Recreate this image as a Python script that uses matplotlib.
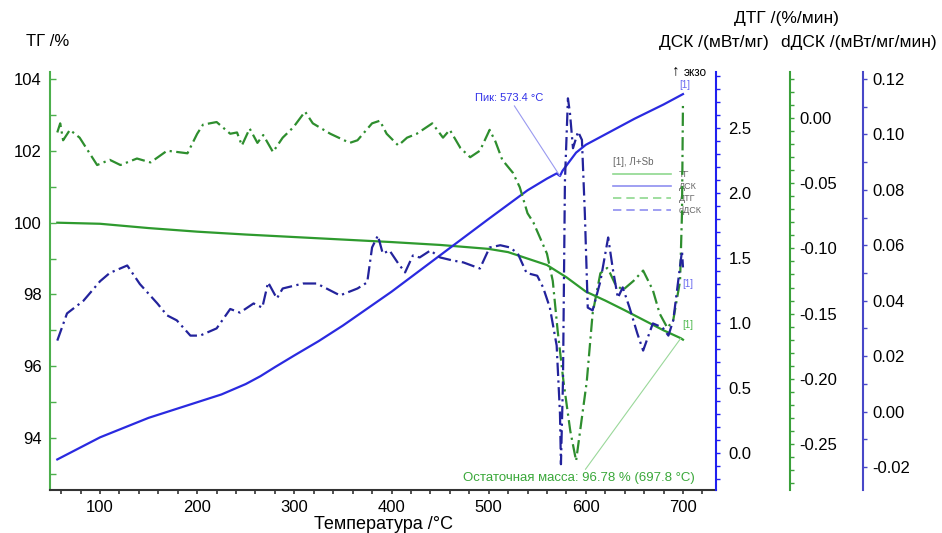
import matplotlib
matplotlib.use('Agg')
import matplotlib.pyplot as plt
from matplotlib.ticker import MultipleLocator, FormatStrFormatter
from matplotlib.lines import Line2D

plt.rcParams['font.family'] = ['Liberation Sans', 'DejaVu Sans']
plt.rcParams['axes.unicode_minus'] = False

# TG, %
tg_temp = [56, 100, 150, 200, 250, 300, 350, 400, 450, 500, 520, 540, 560, 580, 600,
           620, 640, 660, 680, 697.8, 700]
tg_val = [100.0, 99.97, 99.85, 99.75, 99.67, 99.6, 99.53, 99.46, 99.38, 99.27, 99.18,
          99.0, 98.82, 98.48, 98.08, 97.83, 97.56, 97.28, 97.0, 96.78, 96.74]

# DSC, mW/mg
dsc_temp = [56, 100, 150, 200, 225, 250, 265, 280, 300, 325, 350, 400, 450, 500, 540,
            560, 570, 573.4, 576, 590, 600, 620, 650, 680, 700]
dsc_val = [-0.05, 0.12, 0.27, 0.39, 0.45, 0.53, 0.59, 0.66, 0.75, 0.86, 0.98, 1.24,
           1.52, 1.80, 2.02, 2.11, 2.15, 2.13, 2.17, 2.31, 2.37, 2.45, 2.57, 2.68, 2.76]

# DTG, %/min
dtg_temp = [56, 59, 62, 69, 79, 97, 110, 121, 138, 152, 169, 190, 200, 206, 220, 234,
            241, 246, 254, 262, 268, 278, 288, 299, 311, 319, 337, 357, 365, 380, 388,
            395, 407, 416, 426, 442, 453, 460, 471, 481, 491, 501, 507, 514, 525, 532,
            540, 546, 553, 560, 566, 571, 577, 584, 590, 601, 607, 615, 622, 625, 630,
            638, 649, 659, 669, 676, 684, 690, 697, 699, 700]
dtg_val = [-0.011, -0.004, -0.017, -0.009, -0.015, -0.036, -0.032, -0.036, -0.031,
           -0.034, -0.025, -0.027, -0.012, -0.005, -0.003, -0.012, -0.011, -0.021,
           -0.008, -0.019, -0.013, -0.026, -0.015, -0.007, 0.005, -0.004, -0.012,
           -0.019, -0.017, -0.004, -0.002, -0.012, -0.021, -0.015, -0.012, -0.004,
           -0.015, -0.009, -0.023, -0.030, -0.025, -0.009, -0.018, -0.032, -0.042,
           -0.053, -0.073, -0.080, -0.092, -0.104, -0.125, -0.163, -0.202, -0.240,
           -0.263, -0.202, -0.150, -0.119, -0.115, -0.119, -0.127, -0.132, -0.125,
           -0.117, -0.132, -0.150, -0.161, -0.155, -0.125, -0.073, 0.012]

# dDSC, mW/mg/min
ddsc_temp = [56, 66, 83, 100, 110, 128, 141, 159, 169, 179, 193, 203, 220, 234, 244,
             258, 267, 273, 282, 288, 309, 323, 347, 365, 375, 380, 386, 391, 398, 407,
             414, 422, 429, 440, 450, 463, 474, 491, 501, 512, 522, 530, 539, 550, 556,
             563, 570, 573.4, 574.4, 576.5, 578.5, 581.6, 583.7, 586.8, 592, 596, 599,
             602, 607, 615, 623, 628, 633, 638, 645, 653, 659, 669, 679, 685, 690, 699,
             700]
ddsc_val = [0.0256, 0.0354, 0.040, 0.047, 0.050, 0.0527, 0.046, 0.039, 0.0347, 0.0329,
            0.0274, 0.0274, 0.030, 0.037, 0.0357, 0.039, 0.0375, 0.0466, 0.0408, 0.0444,
            0.0462, 0.0462, 0.0419, 0.0444, 0.0466, 0.0592, 0.0635, 0.057, 0.0581,
            0.0534, 0.0502, 0.0563, 0.0556, 0.0581, 0.0556, 0.0545, 0.0538, 0.0516,
            0.0592, 0.060, 0.0592, 0.057, 0.050, 0.049, 0.0448, 0.0375, 0.0238, -0.0007,
            -0.019, 0.011, 0.083, 0.113, 0.1076, 0.095, 0.101, 0.098, 0.0715, 0.0375,
            0.0365, 0.047, 0.0628, 0.051, 0.041, 0.0448, 0.0375, 0.0282, 0.022, 0.0318,
            0.0303, 0.0274, 0.0329, 0.058, 0.052]

tg_color = '#2e9a2e'
dsc_color = '#2a2ae0'
dtg_color = '#2e8e2e'
ddsc_color = '#23239c'

W, H = 942, 533
fig = plt.figure(figsize=(W / 100, H / 100), dpi=100)
ax = fig.add_axes([50 / W, 1 - 490 / H, 666 / W, 418 / H])
ax2 = ax.twinx()
ax3 = ax.twinx()
ax4 = ax.twinx()

ax.plot(tg_temp, tg_val, color=tg_color, lw=1.6, zorder=3)
ax2.plot(dsc_temp, dsc_val, color=dsc_color, lw=1.6)
ax3.plot(dtg_temp, dtg_val, color=dtg_color, lw=1.6, linestyle=(0, (6, 2, 1, 2)))
ax4.plot(ddsc_temp, ddsc_val, color=ddsc_color, lw=1.6, linestyle=(0, (6, 2, 1, 2)))

ax.set_xlim(48.5, 734)
ax.set_ylim(92.55, 104.2)
ax2.set_ylim(-0.285, 2.93)
ax3.set_ylim(-0.2854, 0.0354)
ax4.set_ylim(-0.0283, 0.1225)

# spines
ax.spines['top'].set_visible(False)
ax.spines['right'].set_visible(False)
ax.spines['left'].set_color('#4caf4c')
ax.spines['left'].set_linewidth(1.5)
ax.spines['bottom'].set_color('#333333')
ax.spines['bottom'].set_linewidth(1.5)
for a in (ax2, ax3, ax4):
    for s in ('top', 'left', 'bottom'):
        a.spines[s].set_visible(False)
ax2.spines['right'].set_color('#2020f0')
ax3.spines['right'].set_color('#3aa03a')
ax4.spines['right'].set_color('#4848c8')
ax3.spines['right'].set_position(('axes', 740 / 666))
ax4.spines['right'].set_position(('axes', 813 / 666))
for a in (ax2, ax3, ax4):
    a.spines['right'].set_linewidth(1.5)

# ticks
ax.xaxis.set_major_locator(MultipleLocator(100))
ax.xaxis.set_minor_locator(MultipleLocator(20))
ax.yaxis.set_major_locator(MultipleLocator(2))
ax.yaxis.set_minor_locator(MultipleLocator(1))
ax.tick_params(axis='x', which='both', direction='out', length=3, width=1.2,
               color='#333333', labelsize=12, pad=4)
ax.tick_params(axis='y', which='both', direction='in', length=4, width=1,
               color='#4caf4c', labelsize=12, pad=6)

ax2.yaxis.set_major_locator(MultipleLocator(0.5))
ax2.yaxis.set_minor_locator(MultipleLocator(0.1))
ax2.yaxis.set_major_formatter(FormatStrFormatter('%.1f'))
ax2.tick_params(axis='y', which='both', direction='out', length=3, width=1,
                color='#2020f0', labelsize=12, pad=6)

ax3.yaxis.set_major_locator(MultipleLocator(0.05))
ax3.yaxis.set_minor_locator(MultipleLocator(0.01))
ax3.yaxis.set_major_formatter(FormatStrFormatter('%.2f'))
ax3.tick_params(axis='y', which='both', direction='out', length=3, width=1,
                color='#3aa03a', labelsize=12, pad=4)

ax4.yaxis.set_major_locator(MultipleLocator(0.02))
ax4.yaxis.set_minor_locator(MultipleLocator(0.01))
ax4.yaxis.set_major_formatter(FormatStrFormatter('%.2f'))
ax4.tick_params(axis='y', which='both', direction='out', length=3, width=1,
                color='#4848c8', labelsize=12, pad=4)

# axis titles
ax.set_xlabel('Температура /°C', fontsize=13, labelpad=1)
fig.text(48 / W, 1 - 42 / H, 'ТГ /%', fontsize=12, ha='center', va='center')
fig.text(786 / W, 1 - 18 / H, 'ДТГ /(%/мин)', fontsize=12.5, ha='center', va='center')
fig.text(714 / W, 1 - 42 / H, 'ДСК /(мВт/мг)', fontsize=12.5, ha='center', va='center')
fig.text(859 / W, 1 - 42 / H, 'dДСК /(мВт/мг/мин)', fontsize=12.5, ha='center', va='center')
fig.text(676 / W, 1 - 70 / H, '↑', fontsize=11, ha='center', va='center')
fig.text(684 / W, 1 - 73 / H, 'экзо', fontsize=8.5, ha='left', va='center')

# annotations
ax2.annotate('Пик: 573.4 °C', xy=(573.4, 2.13), xytext=(486, 2.73), fontsize=8,
             color='#3030e8', ha='left', va='center',
             arrowprops=dict(arrowstyle='-', color='#9a9af0', lw=0.8,
                             shrinkA=0, shrinkB=0))
ax.annotate('Остаточная масса: 96.78 % (697.8 °C)', xy=(697.8, 96.78),
            xytext=(593, 92.88), fontsize=9.5, color='#3aa83a', ha='center',
            va='center',
            arrowprops=dict(arrowstyle='-', color='#9ad89a', lw=0.8,
                            shrinkA=0, shrinkB=0))
ax2.text(702, 2.83, '[1]', fontsize=7, color='#6a6af0', ha='center', va='center')
ax4.text(705, 0.046, '[1]', fontsize=7, color='#6a6af0', ha='center', va='center')
ax.text(705, 97.15, '[1]', fontsize=7, color='#4cb84c', ha='center', va='center')

# legend
handles = [
    Line2D([], [], color='#8fd88f', lw=1.2),
    Line2D([], [], color='#8f8ff0', lw=1.2),
    Line2D([], [], color='#8fd88f', lw=1.2, linestyle=(0, (5, 3))),
    Line2D([], [], color='#8f8ff0', lw=1.2, linestyle=(0, (5, 3))),
]
leg = ax.legend(handles, ['ТГ', 'ДСК', 'ДТГ', 'dДСК'], title='[1], Л+Sb',
                loc='upper left', bbox_to_anchor=(608 / W, 1 - 152 / H),
                bbox_transform=fig.transFigure, frameon=False, fontsize=6.5,
                title_fontsize=7, handlelength=6.5, handletextpad=0.8,
                labelspacing=0.35, borderpad=0, alignment='left')
for t in leg.get_texts():
    t.set_color('#666666')
leg.get_title().set_color('#666666')

fig.savefig('out.png', dpi=100)
